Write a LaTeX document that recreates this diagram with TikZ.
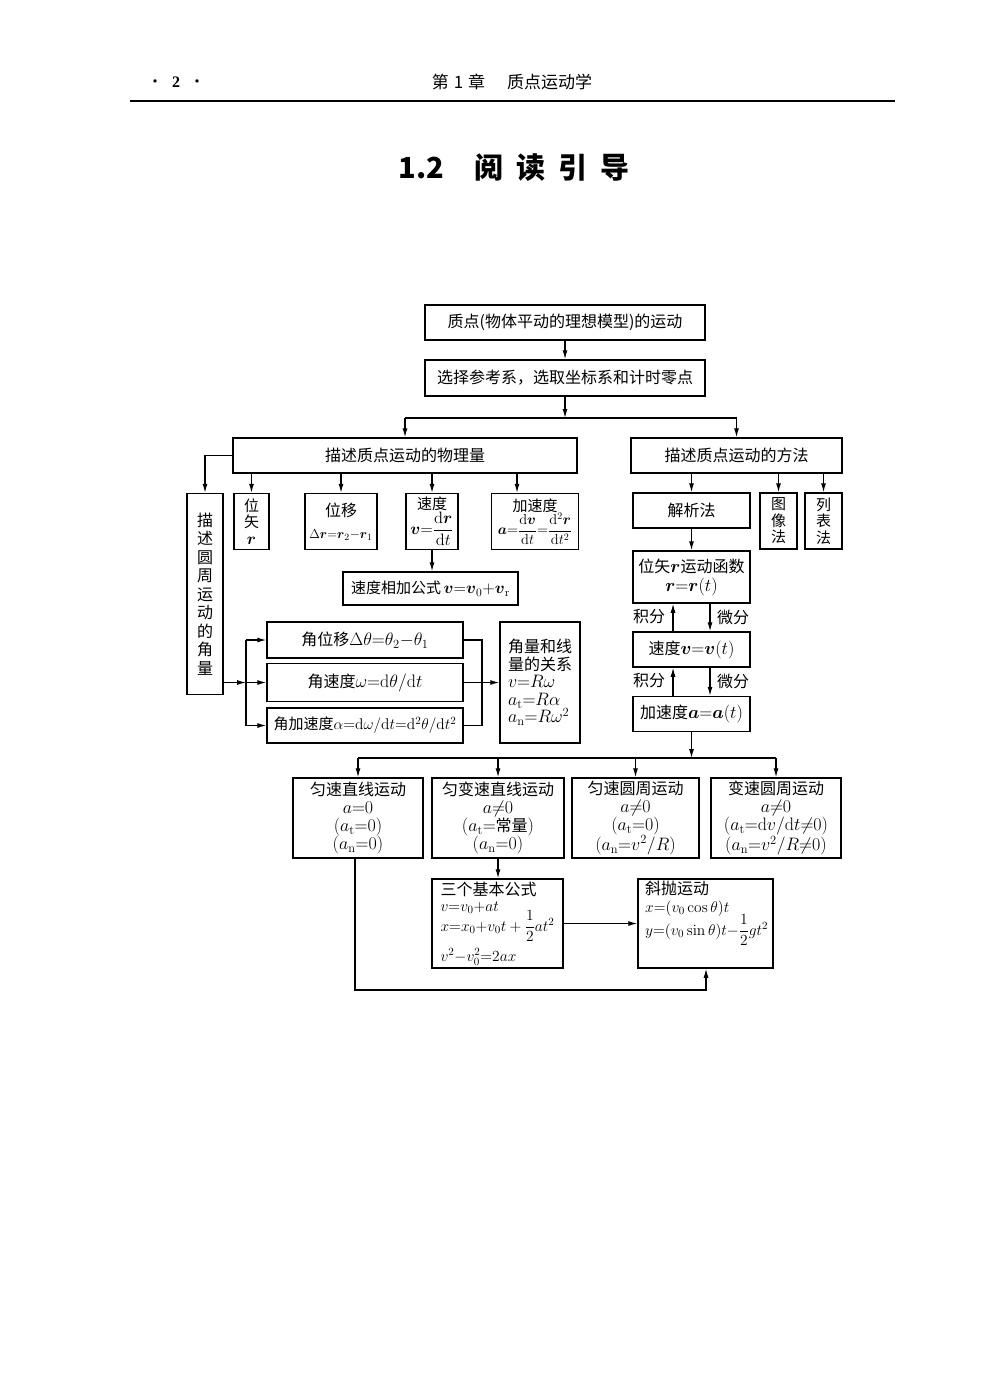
\RequirePackage{fix-cm}
\documentclass[tikz,border=0pt]{standalone}
\usepackage{amsmath}
\usepackage[no-math]{fontspec}
\setmainfont{Noto Sans CJK SC}
\newfontfamily\serifnum{Liberation Serif}
\usetikzlibrary{arrows.meta}
\DeclareMathSizes{16}{18}{12.5}{9}
\DeclareMathSizes{15}{16.5}{11.5}{8.5}
\DeclareMathSizes{14.5}{15.5}{11}{8}
\DeclareMathSizes{14}{14.5}{10}{7.5}
\DeclareMathSizes{13}{13}{9.5}{7}
\newcommand{\bv}[1]{\boldsymbol{#1}}
\newcommand{\dd}{\mathrm{d}}
\newcommand{\cjks}[1]{{\fontsize{16}{18}\selectfont #1}}
\begin{document}
\begin{tikzpicture}[x=1pt,y=-1pt,
  bx/.style={draw, line width=1.5pt, inner sep=0pt, align=center, font=\fontsize{16}{19}\selectfont},
  sbx/.style={bx, font=\fontsize{15}{16.5}\selectfont},
  cn/.style={line width=1.1pt},
  ar/.style={cn,-{Latex[length=9pt,width=5pt]}},
  lb/.style={inner sep=0pt, font=\fontsize{16}{19}\selectfont}]
\useasboundingbox[fill=white] (0,0) rectangle (1000,1373);

% header
\node[lb, font=\fontsize{16}{18}\selectfont] (pg) at (176,82) {•\hspace{9pt}{\serifnum\bfseries 2}\hspace{9pt}•};
\node[lb, font=\fontsize{17}{19}\selectfont] (hd) at (512,82) {第\hspace{5pt}1\hspace{5pt}章\hspace{22pt}质点运动学};
\draw[line width=1.2pt] (130,101) -- (895,101);
\node[lb, font=\fontsize{29}{32}\selectfont\bfseries] (ttl) at (514,168) {1.2\hspace{30pt}阅\hspace{13pt}读\hspace{13pt}引\hspace{13pt}导};

% top
\node[bx, minimum width=280pt, minimum height=35pt] (b1) at (565,322.5) {质点(物体平动的理想模型)的运动};
\node[bx, minimum width=280pt, minimum height=36pt] (b2) at (565,378) {选择参考系，选取坐标系和计时零点};
\node[bx, minimum width=344pt, minimum height=35pt] (b3) at (405,455.5) {描述质点运动的物理量};
\node[bx, minimum width=211pt, minimum height=35pt] (b4) at (736.5,455.5) {描述质点运动的方法};

% left branch
\node[bx, font=\fontsize{16}{18.5}\selectfont, minimum width=36pt, minimum height=201pt] (vl) at (205,594) {描\\述\\圆\\周\\运\\动\\的\\角\\量};
\node[sbx, minimum width=35pt, minimum height=56pt] (pr) at (251.5,521.5) {位\\矢\\$\bv r$};
\node[bx, font=\fontsize{13}{18}\selectfont, minimum width=72pt, minimum height=56pt] (dr) at (341,521.5) {\cjks{位移}\\[4pt]$\Delta\bv r{=}\bv r_2{-}\bv r_1$};
\node[bx, font=\fontsize{15}{17}\selectfont, minimum width=52pt, minimum height=56pt] (vv) at (432,521.5) {速度\\$\bv v{=}\dfrac{\dd\bv r}{\dd t}$};
\node[bx, font=\fontsize{14}{17}\selectfont, minimum width=87pt, minimum height=56pt] (aa) at (535,521.5) {{\fontsize{15}{17}\selectfont 加速度}\\$\bv a{=}\dfrac{\dd\bv v}{\dd t}{=}\dfrac{\dd^2\bv r}{\dd t^2}$};
\node[bx, font=\fontsize{15}{18}\selectfont, minimum width=175pt, minimum height=33pt] (vs) at (430.5,588.5) {速度相加公式\,$\bv v{=}\bv v_0{+}\bv v_\mathrm{r}$};

\node[bx, minimum width=196pt, minimum height=36pt] (ang1) at (365,640) {角位移$\Delta\theta{=}\theta_2{-}\theta_1$};
\node[bx, minimum width=196pt, minimum height=38pt] (ang2) at (365,682.5) {角速度$\omega{=}\dd\theta/\dd t$};
\node[bx, font=\fontsize{14.5}{18}\selectfont, minimum width=196pt, minimum height=35pt] (ang3) at (365,725.5) {{\fontsize{15}{18}\selectfont 角加速度}$\alpha{=}\dd\omega/\dd t{=}\dd^2\theta/\dd t^2$};
\node[bx, align=left, font=\fontsize{16}{17.5}\selectfont, minimum width=80pt, minimum height=121pt] (rel) at (540,682.5) {角量和线\\量的关系\\$v{=}R\omega$\\$a_\mathrm{t}{=}R\alpha$\\$a_\mathrm{n}{=}R\omega^2$};

% right branch
\node[bx, minimum width=117pt, minimum height=35pt] (jx) at (691.5,510.5) {解析法};
\node[sbx, minimum width=37pt, minimum height=56pt] (tx) at (778.5,521) {图\\像\\法};
\node[sbx, minimum width=37pt, minimum height=56pt] (lx) at (823.5,521) {列\\表\\法};
\node[bx, minimum width=117pt, minimum height=52pt] (rf) at (691.5,577) {位矢$\bv r$运动函数\\$\bv r{=}\bv r(t)$};
\node[bx, minimum width=117pt, minimum height=35pt] (vf) at (691.5,649.5) {速度$\bv v{=}\bv v(t)$};
\node[bx, minimum width=117pt, minimum height=35pt] (af) at (691.5,714) {加速度$\bv a{=}\bv a(t)$};
\node[lb] (jf1) at (649,617) {积分};
\node[lb] (wf1) at (733,617) {微分};
\node[lb] (jf2) at (649,681) {积分};
\node[lb] (wf2) at (733,681) {微分};

% bottom
\node[bx, font=\fontsize{16}{18}\selectfont, minimum width=130pt, minimum height=80pt] (mA) at (358,818) {匀速直线运动\\$a{=}0$\\$(a_\mathrm{t}{=}0)$\\$(a_\mathrm{n}{=}0)$};
\node[bx, font=\fontsize{16}{18}\selectfont, minimum width=132pt, minimum height=80pt] (mB) at (498,818) {匀变速直线运动\\$a{\neq}0$\\$(a_\mathrm{t}{=}$常量$)$\\$(a_\mathrm{n}{=}0)$};
\node[bx, font=\fontsize{16}{18}\selectfont, minimum width=127pt, minimum height=80pt] (mC) at (635.5,818) {匀速圆周运动\\$a{\neq}0$\\$(a_\mathrm{t}{=}0)$\\$(a_\mathrm{n}{=}v^2/R)$};
\node[bx, font=\fontsize{16}{18}\selectfont, minimum width=130pt, minimum height=80pt] (mD) at (776,818) {变速圆周运动\\$a{\neq}0$\\$(a_\mathrm{t}{=}\dd v/\dd t{\neq}0)$\\$(a_\mathrm{n}{=}v^2/R{\neq}0)$};
\node[bx, align=left, font=\fontsize{14.5}{18}\selectfont, minimum width=131pt, minimum height=89pt] (sf) at (497.5,923.5) {\cjks{三个基本公式}\\[-2pt]$v{=}v_0{+}at$\\[-4pt]$x{=}x_0{+}v_0t+\dfrac{1}{2}at^2$\\[6pt]$v^2{-}v_0^2{=}2ax$};
\node[bx, minimum width=135pt, minimum height=89pt] (xp) at (705.5,923.5) {};
\node[lb, anchor=north west, align=left, font=\fontsize{14.5}{18}\selectfont] (xpt) at (645,881) {\cjks{斜抛运动}\\$x{=}(v_0\cos\theta)t$\\[-3pt]$y{=}(v_0\sin\theta)t{-}\dfrac{1}{2}gt^2$};

% connectors
\draw[ar] (b1.south) -- (b2.north);
\coordinate (br1) at (565,418);
\draw[ar] (b2.south) -- (br1);
\draw[cn] (br1 -| b3) -- (br1 -| b4);
\draw[ar] (br1 -| b3) -- (b3.north);
\draw[ar] (br1 -| b4) -- (b4.north);

\draw[ar] (b3.west) -| (vl.north);
\draw[ar] (b3.south -| pr) -- (pr.north);
\draw[ar] (b3.south -| dr) -- (dr.north);
\draw[ar] (b3.south -| vv) -- (vv.north);
\coordinate (xa) at (517,0);
\draw[ar] (b3.south -| xa) -- (aa.north -| xa);
\draw[ar] (vv.south) -- (vv.south |- vs.north);

\coordinate (lbr) at (246,682.5);
\draw[ar] (vl.east |- lbr) -- (lbr);
\draw[ar] (lbr) -- (ang2.west);
\draw[cn] (lbr |- ang1) -- (lbr |- ang3);
\draw[ar] (lbr |- ang1) -- (ang1.west);
\draw[ar] (lbr |- ang3) -- (ang3.west);
\coordinate (rbr) at (482,682.5);
\draw[cn] (ang1.east) -| (rbr |- ang3) -- (ang3.east);
\draw[cn] (ang2.east) -- (rbr);
\draw[ar] (rbr) -- (rel.west |- rbr);

\draw[ar] (b4.south -| jx) -- (jx.north);
\draw[ar] (b4.south -| tx) -- (tx.north);
\draw[ar] (b4.south -| lx) -- (lx.north);
\draw[ar] (jx.south) -- (rf.north);
\coordinate (ux) at (673,0);
\coordinate (dx) at (710,0);
\draw[ar] (vf.north -| ux) -- (rf.south -| ux);
\draw[ar] (rf.south -| dx) -- (vf.north -| dx);
\draw[ar] (af.north -| ux) -- (vf.south -| ux);
\draw[ar] (vf.south -| dx) -- (af.north -| dx);

\coordinate (br2) at (691.5,758);
\draw[ar] (af.south) -- (br2);
\draw[cn] (br2 -| mA) -- (br2 -| mD);
\draw[ar] (br2 -| mA) -- (mA.north);
\draw[ar] (br2 -| mB) -- (mB.north);
\draw[ar] (br2 -| mC) -- (mC.north);
\draw[ar] (br2 -| mD) -- (mD.north);

\draw[ar] (mB.south) -- (mB.south |- sf.north);
\draw[ar] (sf.east) -- (xp.west);
\coordinate (bl) at (355,990);
\coordinate (bri) at (706,990);
\draw[ar] (mA.south -| bl) -- (bl) -- (bri) -- (xp.south -| bri);
\end{tikzpicture}
\end{document}
